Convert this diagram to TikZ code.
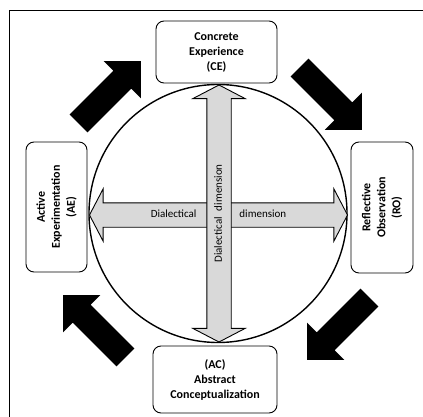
\documentclass[tikz,border=0pt]{standalone}
\usepackage{fontspec}
\setmainfont{Carlito}
\usetikzlibrary{shapes.arrows}
\tikzset{
  stagebox/.style={draw=black, rounded corners=8pt, line width=0.9pt, fill=white,
    align=center, inner sep=2pt, font=\bfseries\fontsize{12}{15}\selectfont},
  cyclearrow/.style={single arrow, fill=black, inner sep=12.5pt, minimum height=88pt,
    single arrow head extend=13.5pt, anchor=tip},
  dimarrow/.style={double arrow, draw=black, line width=0.9pt, fill=black!15,
    inner xsep=0pt, inner ysep=6.5pt, text height=8pt, text depth=2.5pt,
    double arrow head extend=14pt, double arrow tip angle=125,
    font=\fontsize{11}{13}\selectfont},
}

\begin{document}
\begin{tikzpicture}[x=1pt, y=-1pt]
  \useasboundingbox (0,0) rectangle (423,417);

  %% ---- frame (top and left edges only) ----
  \coordinate (fl) at (9,417);
  \coordinate (ft) at (9,10);
  \coordinate (fr) at (423,10);
  \draw[line width=0.9pt] (fl) -- (ft) -- (fr);

  %% ---- circle ----
  \node[circle, draw=black, line width=1.4pt, minimum size=258pt, inner sep=0pt] (ring) at (218,213.5) {};

  %% ---- dialectical dimensions ----
  \node[dimarrow, minimum height=258pt] (hdim) at (218.5,215)
    {Dialectical\hspace{43pt}dimension};
  \node[dimarrow, minimum height=257pt, rotate=90] (vdim) at (219,213.5)
    {Dialectical\hspace{6pt}dimension};

  %% ---- the four stages ----
  \node[stagebox, minimum width=121pt, minimum height=62pt] (ce) at (216.5,52)
    {Concrete\\Experience\\(CE)};
  \node[stagebox, minimum width=131pt, minimum height=62pt, rotate=90] (ro) at (382,207.5)
    {Reflective\\Observation\\(RO)};
  \node[stagebox, minimum width=124pt, minimum height=67pt] (ac) at (215,379.5)
    {(AC)\\Abstract\\Conceptualization};
  \node[stagebox, minimum width=130pt, minimum height=61pt, rotate=90] (ae) at (56.5,207)
    {Active\\Experimentation\\(AE)};

  %% ---- cycle arrows ----
  \node[cyclearrow, rotate=45]   (toce) at (141,61)  {};
  \node[cyclearrow, rotate=-45]  (toro) at (362,130) {};
  \node[cyclearrow, rotate=-135] (toac) at (307,360) {};
  \node[cyclearrow, rotate=135]  (toae) at (63,295)  {};

\end{tikzpicture}
\end{document}
